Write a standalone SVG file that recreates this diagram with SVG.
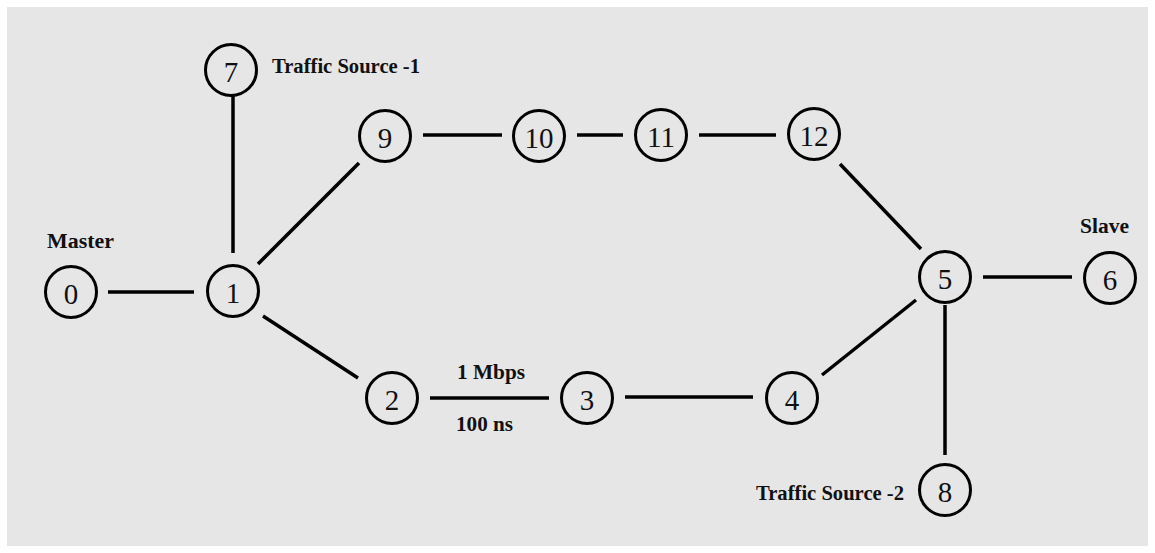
<svg xmlns="http://www.w3.org/2000/svg" width="1155" height="553" viewBox="0 0 1155 553">
  <style>
    .node circle { fill: none; stroke: #000; stroke-width: 3; }
    .node text { font-family: "Liberation Serif", "Times New Roman", serif; font-size: 29px; fill: #111; text-anchor: middle; }
    .edges line { stroke: #000; stroke-width: 3.5; }
    .label { font-family: "Liberation Serif", "Times New Roman", serif; font-size: 20px; font-weight: bold; fill: #111; }
  </style>
  <rect width="1155" height="553" fill="#ffffff"/>
  <rect x="7" y="7" width="1141" height="539" fill="#e6e6e6"/>

  <g class="edges">
    <line x1="108" y1="292" x2="194" y2="292"/>
    <line x1="233" y1="96" x2="233" y2="253"/>
    <line x1="258" y1="264" x2="359" y2="163"/>
    <line x1="263" y1="316" x2="358" y2="378"/>
    <line x1="430" y1="398" x2="549" y2="398"/>
    <line x1="625" y1="397" x2="753" y2="397"/>
    <line x1="822" y1="375" x2="916" y2="300"/>
    <line x1="423" y1="135" x2="502" y2="135"/>
    <line x1="577" y1="135" x2="623" y2="135"/>
    <line x1="699" y1="135" x2="776" y2="135"/>
    <line x1="840" y1="164" x2="921" y2="249"/>
    <line x1="983" y1="277" x2="1072" y2="277"/>
    <line x1="945" y1="305" x2="945" y2="455"/>
  </g>

  <g id="node0" class="node"><circle cx="71" cy="292" r="25.5"/><text x="71" y="304">0</text></g>
  <g id="node1" class="node"><circle cx="233" cy="291" r="25.5"/><text x="233" y="303">1</text></g>
  <g id="node2" class="node"><circle cx="392" cy="398" r="25.5"/><text x="392" y="410">2</text></g>
  <g id="node3" class="node"><circle cx="587" cy="398" r="25.5"/><text x="587" y="410">3</text></g>
  <g id="node4" class="node"><circle cx="792" cy="398" r="25.5"/><text x="792" y="410">4</text></g>
  <g id="node5" class="node"><circle cx="945" cy="277" r="25.5"/><text x="945" y="289">5</text></g>
  <g id="node6" class="node"><circle cx="1110" cy="278" r="25.5"/><text x="1110" y="290">6</text></g>
  <g id="node7" class="node"><circle cx="231" cy="70" r="25.5"/><text x="231" y="82">7</text></g>
  <g id="node8" class="node"><circle cx="945" cy="490" r="25.5"/><text x="945" y="502">8</text></g>
  <g id="node9" class="node"><circle cx="385" cy="136" r="25.5"/><text x="385" y="148">9</text></g>
  <g id="node10" class="node"><circle cx="539" cy="136" r="25.5"/><text x="539" y="148">10</text></g>
  <g id="node11" class="node"><circle cx="661" cy="135" r="25.5"/><text x="661" y="147">11</text></g>
  <g id="node12" class="node"><circle cx="814" cy="134" r="25.5"/><text x="814" y="146">12</text></g>

  <g id="labels">
    <text class="label" x="47" y="248" textLength="67" lengthAdjust="spacingAndGlyphs">Master</text>
    <text class="label" x="1080" y="233" textLength="49" lengthAdjust="spacingAndGlyphs">Slave</text>
    <text class="label" x="272" y="73" textLength="148" lengthAdjust="spacingAndGlyphs">Traffic Source -1</text>
    <text class="label" x="756" y="500" textLength="148" lengthAdjust="spacingAndGlyphs">Traffic Source -2</text>
    <text class="label" x="457" y="379" textLength="68" lengthAdjust="spacingAndGlyphs">1 Mbps</text>
    <text class="label" x="456" y="431" textLength="57" lengthAdjust="spacingAndGlyphs">100 ns</text>
  </g>
</svg>
